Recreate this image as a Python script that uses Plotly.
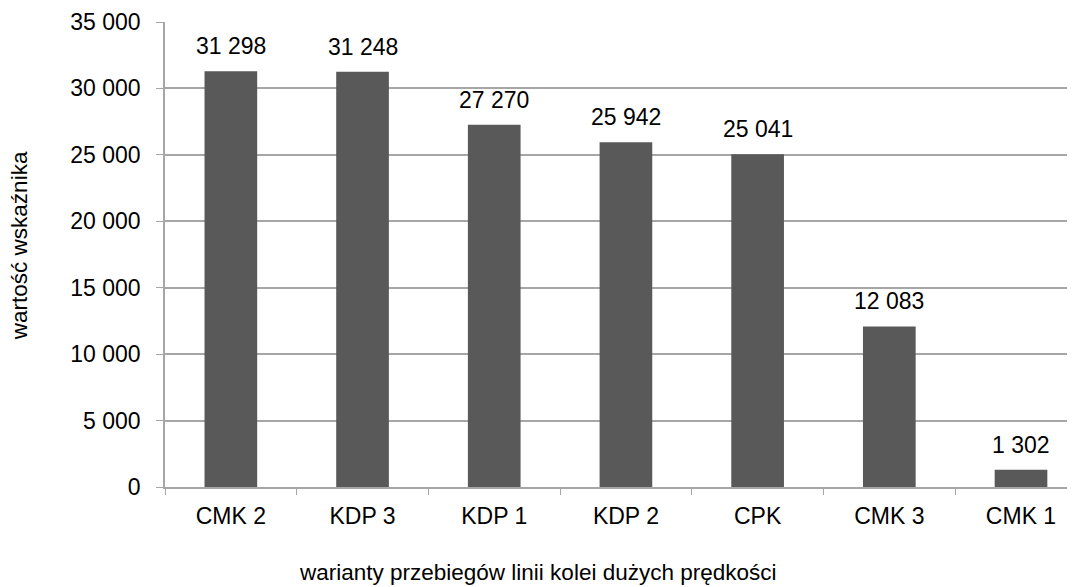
import plotly.graph_objects as go

categories = ["CMK 2", "KDP 3", "KDP 1", "KDP 2", "CPK", "CMK 3", "CMK 1"]
values = [31298, 31248, 27270, 25942, 25041, 12083, 1302]
y_ticks = [0, 5000, 10000, 15000, 20000, 25000, 30000, 35000]

def fmt(v):
    return f"{v:,}".replace(",", " ")

FONT = "Liberation Sans, Arial, sans-serif"
GRID = "#a6a6a6"

fig = go.Figure()
fig.add_trace(go.Bar(
    x=categories, y=values, width=0.4,
    marker=dict(color="#595959", line=dict(width=0)),
    hoverinfo="skip",
))
for c, v in zip(categories, values):
    fig.add_annotation(x=c, y=v, text=fmt(v), showarrow=False,
                       yanchor="bottom", yshift=10,
                       font=dict(family=FONT, size=23, color="#000000"))

# axis titles
fig.add_annotation(xref="paper", yref="paper", x=0.409, y=-0.184,
                   text="warianty przebiegów linii kolei dużych prędkości",
                   showarrow=False, xanchor="center", yanchor="middle",
                   font=dict(family=FONT, size=22.5, color="#000000"))
fig.add_annotation(xref="paper", yref="paper", x=-0.1604, y=0.518,
                   text="wartość wskaźnika", textangle=-90,
                   showarrow=False, xanchor="center", yanchor="middle",
                   font=dict(family=FONT, size=22.5, color="#000000"))

fig.update_layout(
    width=1067, height=579,
    margin=dict(l=157, r=0, t=14, b=100),
    paper_bgcolor="white", plot_bgcolor="white",
    showlegend=False,
    font=dict(family=FONT, size=23, color="#000000"),
)
fig.update_xaxes(
    range=[-0.5, 6.41],
    showline=True, linecolor=GRID, linewidth=1.5,
    ticks="outside", tickson="boundaries", ticklen=6, tickcolor=GRID,
    showgrid=False,
    ticklabelstandoff=8,
    automargin=False,
)
fig.update_yaxes(
    range=[0, 35000],
    tickvals=y_ticks, ticktext=[fmt(t) for t in y_ticks],
    showline=True, linecolor=GRID, linewidth=1.5,
    ticks="outside", ticklen=7, tickcolor=GRID,
    showgrid=True, gridcolor=GRID, gridwidth=1.5,
    zeroline=False,
    ticklabelstandoff=11,
    automargin=False,
)
fig.write_html("out.html")
